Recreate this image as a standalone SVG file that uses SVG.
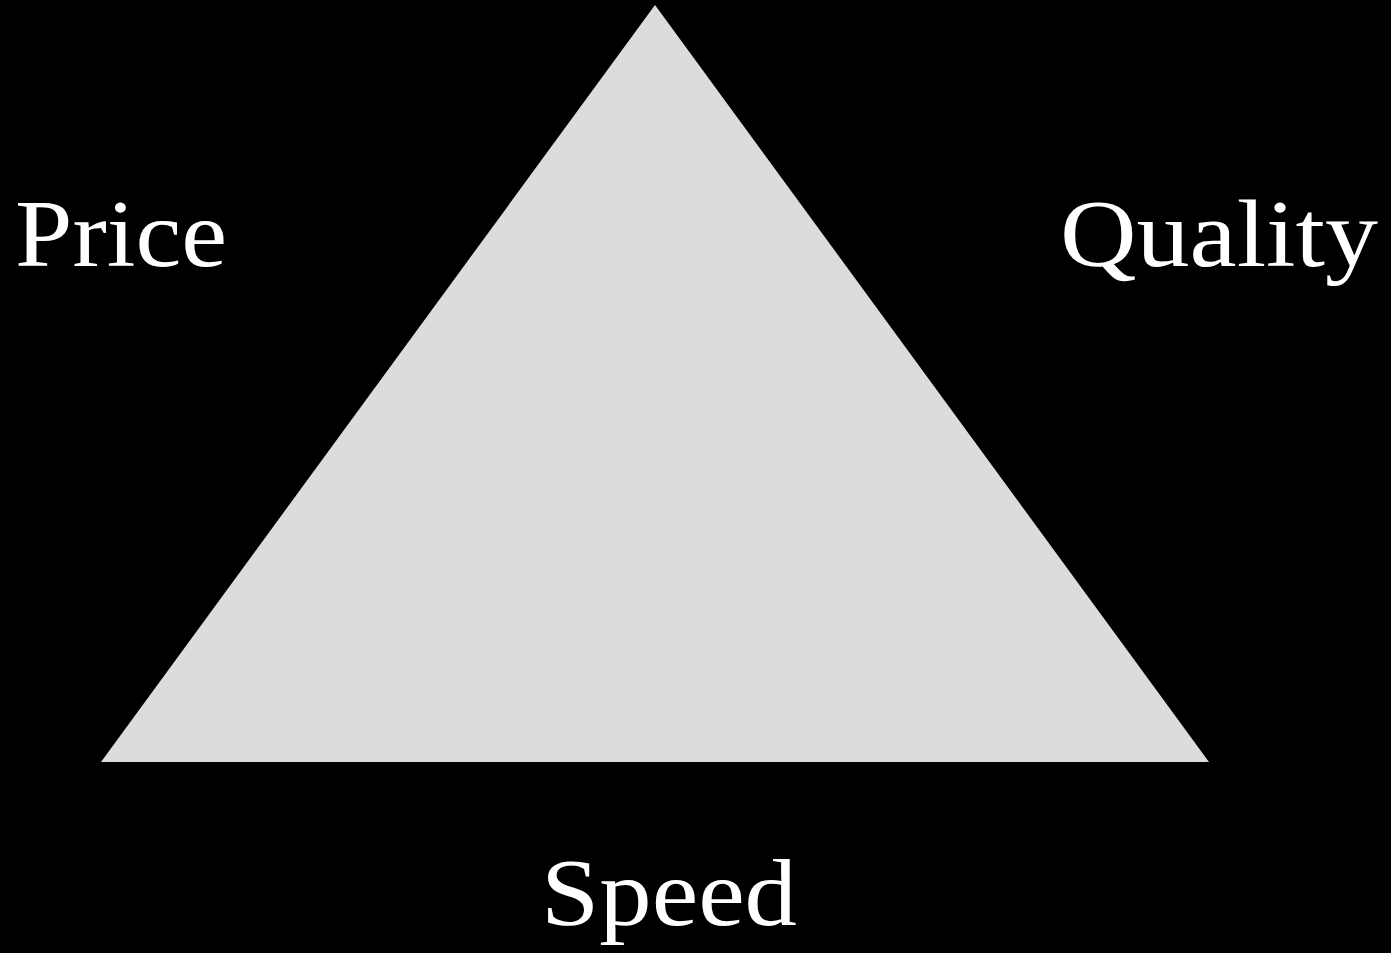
<svg xmlns="http://www.w3.org/2000/svg" width="1391" height="953" viewBox="0 0 1391 953">
<style>
.lbl{font-family:"Liberation Serif","DejaVu Serif",serif;font-size:96px;fill:#ffffff}
</style>
<rect x="0" y="0" width="1391" height="953" fill="#000000"/>
<g id="triangle">
<polygon points="655,5 1209,762 101,762" fill="#dcdcdc"/>
</g>
<g id="price"><text class="lbl" x="15" y="266" textLength="212" lengthAdjust="spacingAndGlyphs">Price</text></g>
<g id="quality"><text class="lbl" x="1060" y="266" textLength="318" lengthAdjust="spacingAndGlyphs">Quality</text></g>
<g id="speed"><text class="lbl" x="541" y="925" textLength="256" lengthAdjust="spacingAndGlyphs">Speed</text></g>
</svg>
